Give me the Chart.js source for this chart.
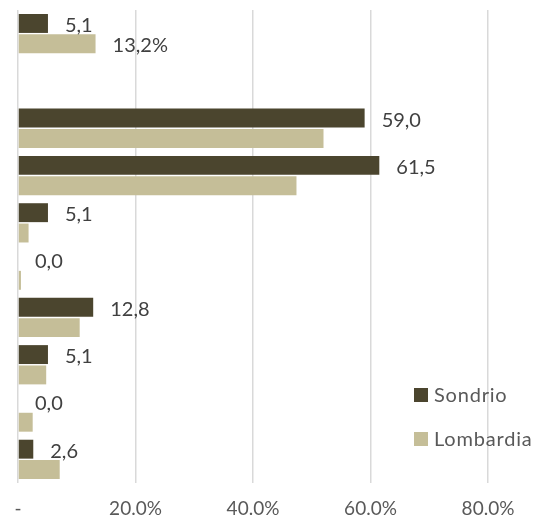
<!DOCTYPE html>
<html>
<head>
<meta charset="utf-8">
<script src="https://cdn.jsdelivr.net/npm/chart.js@4/dist/chart.umd.min.js"></script>
<style>
html,body{margin:0;padding:0;background:#fff;}
#wrap{width:535px;height:522px;}
</style>
</head>
<body>
<div id="wrap"><canvas id="c"></canvas></div>
<script>
const categories = ["A", "B", "C", "D", "E", "F", "G", "H", "I", "J"];
const sondrio = [5.1, null, 59.0, 61.5, 5.1, 0.0, 12.8, 5.1, 0.0, 2.6];
const lombardia = [13.2, null, 52.0, 47.4, 1.8, 0.5, 10.5, 4.8, 2.5, 7.1];
const lombardiaLabelShown = [true, false, false, false, false, false, false, false, false, false];
const xTicks = [0, 20, 40, 60, 80];
const seriesNames = ["Sondrio", "Lombardia"];
const colors = ["#4b452e", "#c5be98"];

const FONT = "Lato, 'Open Sans', sans-serif";

const labelPlugin = {
  id: 'barLabels',
  afterDatasetsDraw(chart) {
    const ctx = chart.ctx;
    ctx.save();
    ctx.font = "20px " + FONT;
    ctx.fillStyle = "#404040";
    ctx.textAlign = "left";
    ctx.textBaseline = "middle";
    chart.data.datasets.forEach((ds, di) => {
      const meta = chart.getDatasetMeta(di);
      meta.data.forEach((el, i) => {
        const v = ds.data[i];
        if (v === null || v === undefined) return;
        let txt = null;
        if (di === 0) txt = v.toFixed(1).replace('.', ',');
        else if (lombardiaLabelShown[i]) txt = v.toFixed(1).replace('.', ',') + '%';
        if (txt) ctx.fillText(txt, el.x + 17, el.y + 2);
      });
    });
    ctx.restore();
  }
};

const legendPlugin = {
  id: 'customLegend',
  afterDraw(chart) {
    const ctx = chart.ctx;
    ctx.save();
    ctx.font = "20px " + FONT;
    try { ctx.letterSpacing = "0.8px"; } catch (e) {}
    ctx.textAlign = "left";
    ctx.textBaseline = "middle";
    const ys = [395, 439];
    chart.data.datasets.forEach((ds, di) => {
      ctx.fillStyle = ds.backgroundColor;
      ctx.fillRect(414, ys[di] - 7, 14, 14);
      ctx.fillStyle = "#595959";
      ctx.fillText(ds.label, 434, ys[di] + 1);
    });
    ctx.restore();
  }
};

new Chart(document.getElementById('c'), {
  type: 'bar',
  data: {
    labels: categories,
    datasets: [
      { label: seriesNames[0], data: sondrio, backgroundColor: colors[0], borderWidth: 0 },
      { label: seriesNames[1], data: lombardia, backgroundColor: colors[1], borderWidth: 0 }
    ]
  },
  options: {
    indexAxis: 'y',
    responsive: true,
    maintainAspectRatio: false,
    animation: false,
    devicePixelRatio: 1,
    categoryPercentage: 0.86,
    barPercentage: 0.93,
    layout: { padding: { left: 18, right: 47, top: 10, bottom: 0 } },
    plugins: { legend: { display: false }, tooltip: { enabled: false } },
    scales: {
      x: {
        min: 0, max: 80,
        afterBuildTicks(scale) { scale.ticks = xTicks.map(v => ({ value: v })); },
        afterFit(scale) { scale.height = 39; },
        border: { display: false },
        grid: { color: "#d9d9d9", lineWidth: 1.5, drawTicks: false },
        ticks: {
          padding: 14,
          color: "#595959",
          font: { family: FONT, size: 19 },
          callback: (v) => v === 0 ? '-' : v.toFixed(1) + '%'
        }
      },
      y: {
        afterFit(scale) { scale.width = 0; },
        border: { display: false },
        grid: { display: false },
        ticks: { display: false }
      }
    }
  },
  plugins: [labelPlugin, legendPlugin]
});
</script>
</body>
</html>
